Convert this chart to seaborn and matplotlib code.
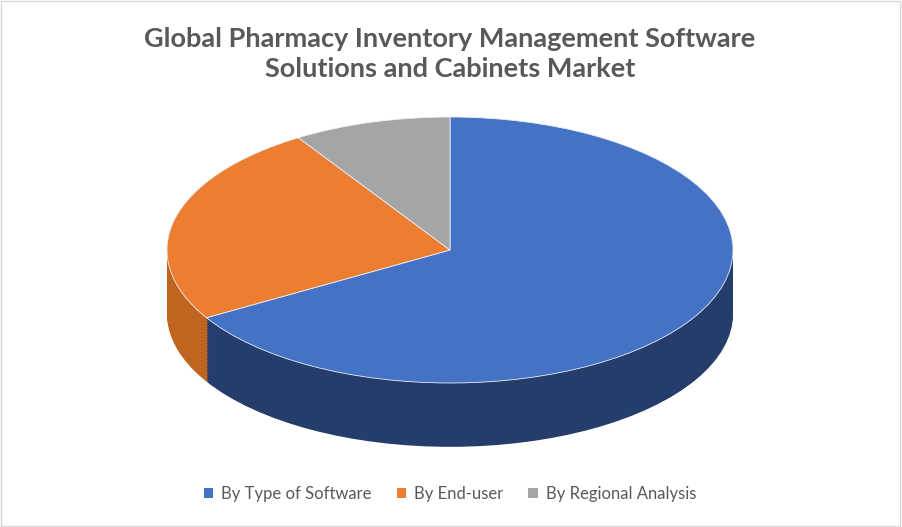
import matplotlib
matplotlib.use('Agg')
import matplotlib.pyplot as plt
import seaborn as sns
from matplotlib.patches import Patch, Rectangle

sns.set_theme(style='white')
plt.rcParams['font.family'] = ['Lato', 'DejaVu Sans']

categories = ['By Type of Software', 'By End-user', 'By Regional Analysis']
shares = [66.5, 24.5, 9.0]
top_colors = ['#4472c4', '#ed7d31', '#a5a5a5']
side_colors = ['#253d6b', '#c0651f', '#7f7f7f']

W, H = 902, 527
fig = plt.figure(figsize=(W / 100, H / 100), dpi=100)
fig.patch.set_facecolor('white')
fig.add_artist(Rectangle((0.001, 0.001), 0.997, 0.997, transform=fig.transFigure,
                         fill=False, edgecolor='#d9d9d9', linewidth=1))

# pixel geometry of the pie
cx, cy, rx, ry = 450, 250, 283, 133
ylo, yhi = -1.6, 1.05
top_px = cy - ry * yhi
bot_px = cy - ry * ylo
ax = fig.add_axes([(cx - rx) / W, 1 - bot_px / H, 2 * rx / W, (bot_px - top_px) / H])

depth = 0.48
n_layers = 40
for i in range(n_layers, 0, -1):
    d = depth * i / n_layers
    ax.pie(shares, colors=side_colors, startangle=90, counterclock=False,
           center=(0, -d), frame=True, wedgeprops=dict(linewidth=0))
ax.pie(shares, colors=top_colors, startangle=90, counterclock=False,
       center=(0, 0), frame=True, wedgeprops=dict(linewidth=0.6, edgecolor='#e8eef8'))
ax.set_aspect('auto')
ax.set_xlim(-1, 1)
ax.set_ylim(ylo, yhi)
ax.axis('off')

fig.text(cx / W, 1 - 54 / H, 'Global Pharmacy Inventory Management Software\nSolutions and Cabinets Market',
         ha='center', va='center', fontsize=19.5, fontweight='bold', color='#595959', linespacing=1.3)

handles = [Patch(facecolor=c, edgecolor='none') for c in top_colors]
fig.legend(handles, categories, loc='center', bbox_to_anchor=(cx / W, 1 - 494 / H), ncol=3,
           frameon=False, fontsize=12, handlelength=0.55, handleheight=0.55, handletextpad=0.5,
           columnspacing=1.5, labelcolor='#595959')

fig.savefig('out.png', dpi=100)
